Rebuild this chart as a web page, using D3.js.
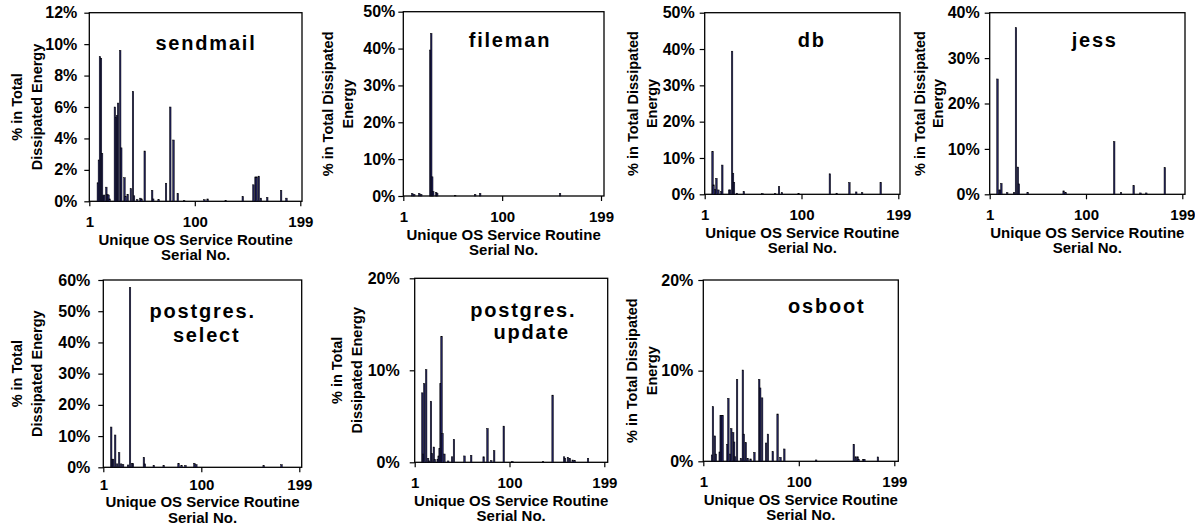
<!DOCTYPE html>
<html><head><meta charset="utf-8">
<script src="https://cdn.jsdelivr.net/npm/d3@7"></script>
<style>
html,body{margin:0;padding:0;background:#fff;}
svg{display:block;font-family:"Liberation Sans",Arial,sans-serif;font-weight:bold;}
</style></head>
<body>
<svg id="c" width="1195" height="527"></svg>
<script>
// ---- data: [serial no., % of total dissipated energy] ----
const xTickLabels = [1, 100, 199];
const sendmail = [[9,1.18],[10,2.63],[11,9.2],[12,9.1],[13,3.05],[14,0.35],[15,0.4],[17,0.9],[18,0.45],[19,0.4],[20,0.15],
  [25,6.0],[26,5.35],[27,5.45],[28,6.25],[30,9.6],[31,3.4],[34,1.5],[35,0.3],[37,0.45],[40,0.8],[42,7.0],[43,0.35],[46,0.1],
  [49,0.2],[50,0.15],[53,3.2],[60,0.7],[61,0.15],[66,0.1],[73,1.15],[77,6.0],[80,3.9],[84,0.5],[90,0.05],[109,0.1],[112,0.15],
  [129,0.05],[145,0.3],[155,1.05],[157,1.55],[158,1.55],[160,1.6],[162,0.2],[168,0.25],[181,0.7],[186,0.2]];
const fileman = [[10,0.7],[12,0.45],[17,0.7],[19,0.45],[28,39.6],[29,44.1],[30,5.2],[31,1.2],[34,1.0],[35,0.7],[53,0.2],
  [73,0.45],[78,0.7],[158,0.7]];
const db = [[9,11.8],[10,2.6],[12,1.4],[13,4.4],[15,1.2],[18,0.75],[19,8.05],[26,1.2],[27,1.2],[29,39.4],[30,5.8],[31,3.3],
  [34,0.3],[41,0.75],[60,0.2],[73,0.2],[77,2.1],[80,0.45],[97,0.2],[129,5.65],[136,0.3],[149,3.25],[156,0.65],[162,0.45],[181,3.3]];
const jess = [[9,25.4],[11,0.95],[12,0.95],[13,2.4],[19,0.35],[26,0.35],[28,36.7],[30,6.0],[31,2.3],[40,0.45],[77,0.75],
  [79,0.35],[129,11.6],[136,0.35],[149,1.9],[156,0.3],[162,0.3],[181,5.87]];
const pgSelect = [[9,12.9],[10,2.6],[11,2.6],[13,10.35],[15,1.1],[17,4.7],[19,1.1],[21,0.85],[26,0.75],[28,57.6],[30,1.3],
  [31,1.2],[42,3.2],[43,1.1],[52,0.6],[62,0.6],[77,1.2],[80,0.6],[84,0.6],[93,1.3],[95,0.85],[163,0.5],[181,0.85]];
const pgUpdate = [[9,7.55],[10,0.9],[11,8.55],[13,10.07],[15,0.43],[16,0.15],[18,6.64],[19,0.97],[21,1.66],[22,0.32],[25,0.32],
  [26,0.69],[27,1.5],[28,8.55],[29,13.7],[30,3.14],[32,0.9],[36,0.15],[40,0.6],[42,2.5],[53,0.69],[60,0.76],[73,0.6],[77,3.68],
  [81,0.18],[84,1.26],[94,3.93],[103,0.1],[135,0.07],[145,7.3],[157,0.6],[158,0.43],[161,0.54],[163,0.43],[166,0.25],[168,0.2],[182,0.43]];
const osboot = [[10,0.7],[11,6.03],[13,2.8],[14,0.8],[18,1.03],[19,5.07],[20,5.07],[21,5.07],[26,1.88],[27,6.95],[29,0.8],
  [30,3.6],[32,3.16],[33,2.13],[34,0.5],[36,9.04],[40,0.33],[42,10.07],[43,3.0],[45,2.06],[47,0.33],[50,0.26],[54,0.99],
  [59,9.04],[60,8.09],[62,7.0],[66,2.02],[68,3.0],[73,1.07],[78,5.22],[81,0.44],[85,1.36],[118,0.15],[157,1.88],[159,0.5],
  [161,0.5],[162,0.22],[167,0.22],[168,0.22],[182,0.48]];

// ---- layout ----
const panels = [
  {data:sendmail, yMax:12, yStep:2, L:89.3, R:300.3, FR:302, T:12.7, B:201.3, pad:7, xpad:10,
   title:[["sendmail",206,50]], yt:["% in Total","Dissipated Energy"], yo:[-72.6,-52.6]},
  {data:fileman, yMax:50, yStep:10, L:403.3, R:601, FR:604, T:11.7, B:196, pad:3, xpad:10,
   title:[["fileman",510,46.7]], yt:["% in Total Dissipated","Energy"], yo:[-75,-55]},
  {data:db, yMax:50, yStep:10, L:704.7, R:898.3, FR:900, T:12.7, B:194.3, pad:5, xpad:10,
   title:[["db",811.7,46.7]], yt:["% in Total Dissipated","Energy"], yo:[-71.7,-53]},
  {data:jess, yMax:40, yStep:10, L:989.7, R:1182.3, FR:1185, T:12.7, B:194.3, pad:5, xpad:10,
   title:[["jess",1094.7,46.7]], yt:["% in Total Dissipated","Energy"], yo:[-69.7,-51.7]},
  {data:pgSelect, yMax:60, yStep:10, L:103.3, R:299.3, FR:301.7, T:280, B:467.3, pad:8, xpad:7,
   title:[["postgres.",202.7,318.3],["select",206.7,341.7]], yt:["% in Total","Dissipated Energy"], yo:[-86.6,-66.6]},
  {data:pgUpdate, yMax:20, yStep:10, L:414.7, R:604.3, FR:607.7, T:278.3, B:462.3, pad:10, xpad:10,
   title:[["postgres.",523.3,316.7],["update",531.7,339.3]], yt:["% in Total","Dissipated Energy"], yo:[-78,-58]},
  {data:osboot, yMax:20, yStep:10, L:703.3, R:894.3, FR:898.3, T:280, B:461.3, pad:5, xpad:10,
   title:[["osboot",826.7,313.3]], yt:["% in Total Dissipated","Energy"], yo:[-71.6,-51.6]}
];

const svg = d3.select("#c");
panels.forEach(p => {
  const g = svg.append("g");
  const x = d3.scaleLinear().domain([1,199]).range([p.L,p.R]);
  const y = d3.scaleLinear().domain([0,p.yMax]).range([p.B,p.T]);
  const bw = Math.max(1.5, x(2)-x(1));

  // frame
  g.append("rect").attr("x",p.L).attr("y",p.T).attr("width",p.FR-p.L).attr("height",p.B-p.T)
    .attr("fill","none").attr("stroke","#000").attr("stroke-width",1.3);

  // bars
  g.selectAll("rect.bar").data(p.data).enter().append("rect").attr("class","bar")
    .attr("x",d=>x(d[0])-bw/2).attr("width",bw)
    .attr("y",d=>y(d[1])).attr("height",d=>p.B-y(d[1]))
    .attr("fill","#22225e").attr("stroke","#000").attr("stroke-width",0.5);

  // y axis
  const ya = g.append("g").attr("transform",`translate(${p.L},0)`)
    .call(d3.axisLeft(y).tickValues(d3.range(0,p.yMax+0.001,p.yStep)).tickFormat(d=>d+"%").tickSize(5).tickPadding(p.pad));
  ya.select(".domain").remove();
  ya.selectAll("text").attr("font-size",16).attr("font-family","Liberation Sans, Arial").attr("font-weight","bold").attr("fill","#000");
  ya.selectAll("line").attr("stroke","#000").attr("stroke-width",1.2);

  // x axis
  const xa = g.append("g").attr("transform",`translate(0,${p.B})`)
    .call(d3.axisBottom(x).tickValues(xTickLabels).tickFormat(d=>d).tickSize(5).tickPadding(p.xpad));
  xa.select(".domain").remove();
  xa.selectAll("text").attr("font-size",15).attr("font-family","Liberation Sans, Arial").attr("font-weight","bold").attr("fill","#000");
  xa.selectAll("line").attr("stroke","#000").attr("stroke-width",1.2);

  // x title
  const cx = (p.L+p.FR)/2;
  const y2 = Math.min(p.B+59, 522.5);
  g.append("text").attr("x",cx).attr("y",y2-15.3).attr("text-anchor","middle").attr("font-size",15).text("Unique OS Service Routine");
  g.append("text").attr("x",cx).attr("y",y2).attr("text-anchor","middle").attr("font-size",15).text("Serial No.");

  // y title
  const cy = (p.T+p.B)/2;
  p.yt.forEach((t,i) => {
    g.append("text").attr("transform",`translate(${p.L+p.yo[i]+5},${cy}) rotate(-90)`)
      .attr("text-anchor","middle").attr("font-size",14.5).text(t);
  });

  // panel title
  p.title.forEach(t => {
    g.append("text").attr("x",t[1]).attr("y",t[2]).attr("text-anchor","middle")
      .attr("font-size",20).attr("letter-spacing","1.8px").text(t[0]);
  });
});
</script>
</body></html>
